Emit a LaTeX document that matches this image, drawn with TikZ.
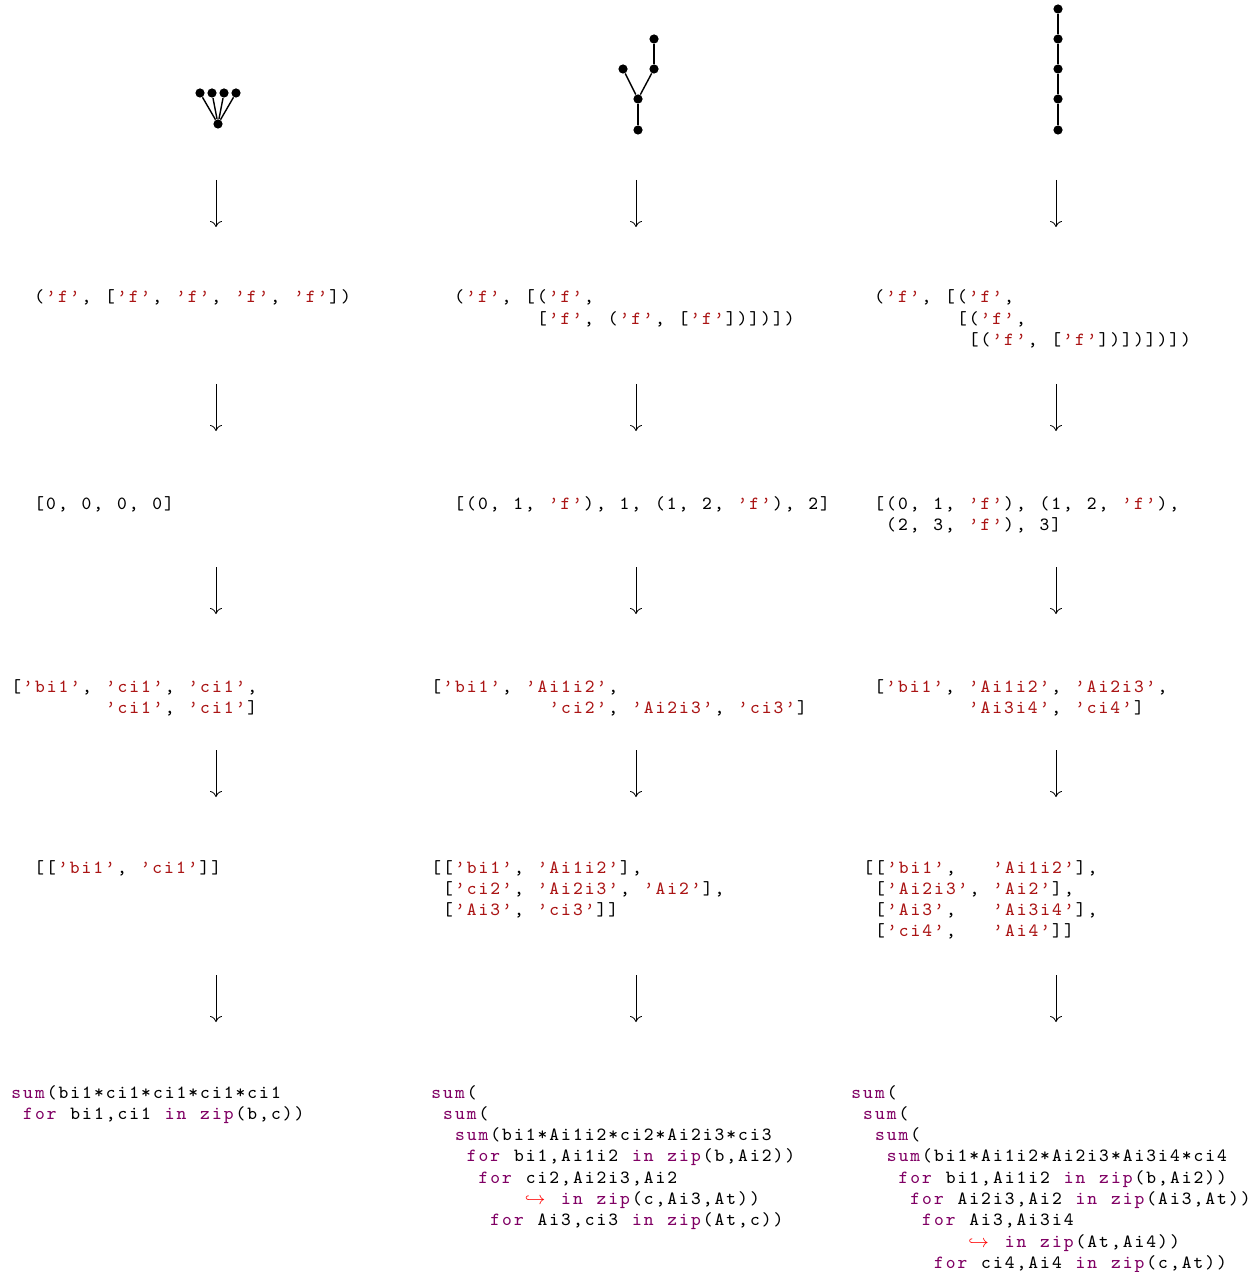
\documentclass[tikz,border=0pt]{standalone}
\usepackage{xcolor}
\usepackage{tikz}
\usetikzlibrary{arrows.meta}

\definecolor{strred}{RGB}{170,20,20}
\definecolor{kwpurple}{RGB}{128,0,100}
\newlength\cw
\setlength\cw{5.9pt}
% fixed-pitch code text, one box per character
\ExplSyntaxOn
\NewDocumentCommand\tw{m}{\str_map_inline:nn{#1}{\makebox[\cw][c]{##1}}}
\ExplSyntaxOff
\newcommand\ps[1]{\textcolor{strred}{\tw{’#1’}}}
\newcommand\kw[1]{\textcolor{kwpurple}{\tw{#1}}}
\newcommand\ind[1]{\hspace*{#1\cw}}
\newcommand\brk{\makebox[2\cw][l]{\textcolor{red}{$\hookrightarrow$}}}

\begin{document}
\begin{tikzpicture}[x=0.5pt,y=-0.5pt,
  dot/.style={circle,fill,inner sep=0pt,minimum size=4.6pt},
  edge/.style={line width=0.7pt},
  code/.style={anchor=base west,inner sep=0pt,align=left,font=\ttfamily\fontsize{9.3}{10.65}\selectfont},
  flow/.style={-{Computer Modern Rightarrow[width=6pt,length=3pt]},line width=0.4pt}]
 \useasboundingbox (0,0) rectangle (1258,1272);
 % trees
 \node[dot] (s0) at (218,124) {};
 \foreach \i/\x in {1/200,2/212,3/224,4/236}
   \node[dot] (s\i) at (\x,93) {};
 \foreach \i in {1,...,4} \draw[edge] (s0)--(s\i);
 \node[dot] (y0) at (638,130) {};
 \node[dot] (y1) at (638,99) {};
 \node[dot] (y2) at (623,69) {};
 \node[dot] (y3) at (654,69) {};
 \node[dot] (y4) at (654,39) {};
 \foreach \a/\b in {y0/y1,y1/y2,y1/y3,y3/y4} \draw[edge] (\a)--(\b);
 \foreach \i/\y in {0/130,1/99,2/69,3/39,4/9}
   \node[dot] (p\i) at (1058,\y) {};
 \foreach \a/\b in {p0/p1,p1/p2,p2/p3,p3/p4} \draw[edge] (\a)--(\b);
 % arrows between stages
 \foreach \c in {0,1,2}
   \foreach \r/\ya/\yb in {1/180/227,2/384/431,3/567/614,4/750/797,5/975/1022} {
     \coordinate (u\c\r) at (216+420*\c,\ya);
     \coordinate (d\c\r) at (216+420*\c,\yb);
     \draw[flow] (u\c\r)--(d\c\r);
   }
 % nested tuples (y = baseline of the last line)
 \node[code] (nest1) at (33,303) {\tw{(}\ps{f}\tw{, [}\ps{f}\tw{, }\ps{f}\tw{, }\ps{f}\tw{, }\ps{f}\tw{])}};
 \node[code] (nest2) at (453,324.3) {\tw{(}\ps{f}\tw{, [(}\ps{f}\tw{,}\\
   \ind{7}\tw{[}\ps{f}\tw{, (}\ps{f}\tw{, [}\ps{f}\tw{])])])}};
 \node[code] (nest3) at (873,345.6) {\tw{(}\ps{f}\tw{, [(}\ps{f}\tw{,}\\
   \ind{7}\tw{[(}\ps{f}\tw{,}\\
   \ind{8}\tw{[(}\ps{f}\tw{, [}\ps{f}\tw{])])])])}};
 % flat lists
 \node[code] (flat1) at (33,509) {\tw{[0, 0, 0, 0]}};
 \node[code] (flat2) at (453,509) {\tw{[(0, 1, }\ps{f}\tw{), 1, (1, 2, }\ps{f}\tw{), 2]}};
 \node[code] (flat3) at (873,530.3) {\tw{[(0, 1, }\ps{f}\tw{), (1, 2, }\ps{f}\tw{),}\\
   \ind{1}\tw{(2, 3, }\ps{f}\tw{), 3]}};
 % index names
 \node[code] (idx1) at (10,713.3) {\tw{[}\ps{bi1}\tw{, }\ps{ci1}\tw{, }\ps{ci1}\tw{,}\\
   \ind{8}\ps{ci1}\tw{, }\ps{ci1}\tw{]}};
 \node[code] (idx2) at (430,713.3) {\tw{[}\ps{bi1}\tw{, }\ps{Ai1i2}\tw{,}\\
   \ind{10}\ps{ci2}\tw{, }\ps{Ai2i3}\tw{, }\ps{ci3}\tw{]}};
 \node[code] (idx3) at (873,713.3) {\tw{[}\ps{bi1}\tw{, }\ps{Ai1i2}\tw{, }\ps{Ai2i3}\tw{,}\\
   \ind{8}\ps{Ai3i4}\tw{, }\ps{ci4}\tw{]}};
 % groups
 \node[code] (grp1) at (33,873) {\tw{[[}\ps{bi1}\tw{, }\ps{ci1}\tw{]]}};
 \node[code] (grp2) at (430,915.6) {\tw{[[}\ps{bi1}\tw{, }\ps{Ai1i2}\tw{],}\\
   \ind{1}\tw{[}\ps{ci2}\tw{, }\ps{Ai2i3}\tw{, }\ps{Ai2}\tw{],}\\
   \ind{1}\tw{[}\ps{Ai3}\tw{, }\ps{ci3}\tw{]]}};
 \node[code] (grp3) at (862,936.9) {\tw{[[}\ps{bi1}\tw{,}\ind{3}\ps{Ai1i2}\tw{],}\\
   \ind{1}\tw{[}\ps{Ai2i3}\tw{, }\ps{Ai2}\tw{],}\\
   \ind{1}\tw{[}\ps{Ai3}\tw{,}\ind{3}\ps{Ai3i4}\tw{],}\\
   \ind{1}\tw{[}\ps{ci4}\tw{,}\ind{3}\ps{Ai4}\tw{]]}};
 % generated code
 \node[code] (gen1) at (10,1119.3) {\kw{sum}\tw{(bi1*ci1*ci1*ci1*ci1}\\
   \ind{1}\kw{for}\tw{ bi1,ci1 }\kw{in}\tw{ }\kw{zip}\tw{(b,c))}};
 \node[code] (gen2) at (430,1225.8) {\kw{sum}\tw{(}\\
   \ind{1}\kw{sum}\tw{(}\\
   \ind{2}\kw{sum}\tw{(bi1*Ai1i2*ci2*Ai2i3*ci3}\\
   \ind{3}\kw{for}\tw{ bi1,Ai1i2 }\kw{in}\tw{ }\kw{zip}\tw{(b,Ai2))}\\
   \ind{4}\kw{for}\tw{ ci2,Ai2i3,Ai2}\\
   \ind{8}\brk\tw{ }\kw{in}\tw{ }\kw{zip}\tw{(c,Ai3,At))}\\
   \ind{5}\kw{for}\tw{ Ai3,ci3 }\kw{in}\tw{ }\kw{zip}\tw{(At,c))}};
 \node[code] (gen3) at (850,1268.4) {\kw{sum}\tw{(}\\
   \ind{1}\kw{sum}\tw{(}\\
   \ind{2}\kw{sum}\tw{(}\\
   \ind{3}\kw{sum}\tw{(bi1*Ai1i2*Ai2i3*Ai3i4*ci4}\\
   \ind{4}\kw{for}\tw{ bi1,Ai1i2 }\kw{in}\tw{ }\kw{zip}\tw{(b,Ai2))}\\
   \ind{5}\kw{for}\tw{ Ai2i3,Ai2 }\kw{in}\tw{ }\kw{zip}\tw{(Ai3,At))}\\
   \ind{6}\kw{for}\tw{ Ai3,Ai3i4}\\
   \ind{10}\brk\tw{ }\kw{in}\tw{ }\kw{zip}\tw{(At,Ai4))}\\
   \ind{7}\kw{for}\tw{ ci4,Ai4 }\kw{in}\tw{ }\kw{zip}\tw{(c,At))}};
\end{tikzpicture}
\end{document}
